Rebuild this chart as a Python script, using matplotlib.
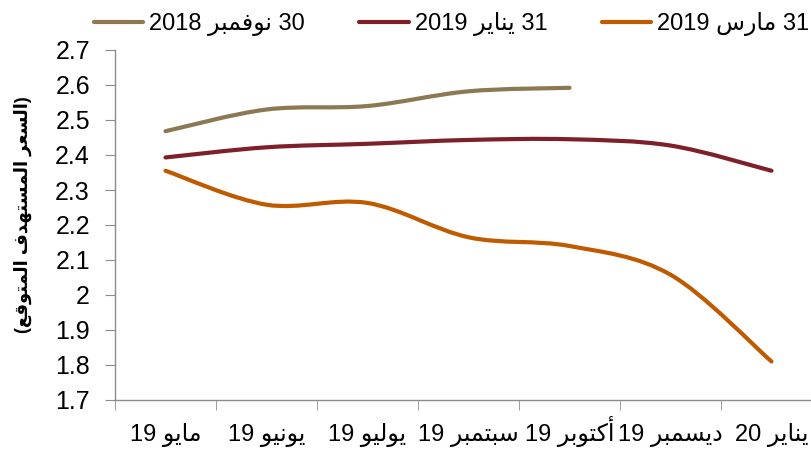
import matplotlib
matplotlib.use('Agg')
import matplotlib.pyplot as plt
from matplotlib.path import Path
from matplotlib.patches import PathPatch
from matplotlib.lines import Line2D

plt.rcParams['font.family'] = ['Liberation Sans', 'DejaVu Sans']

# Data
months = ['مايو 19', 'يونيو 19', 'يوليو 19', 'سبتمبر 19', 'أكتوبر 19', 'ديسمبر 19', 'يناير 20']
nov_2018 = [2.468, 2.530, 2.540, 2.582, 2.592]
jan_2019 = [2.393, 2.422, 2.432, 2.443, 2.445, 2.427, 2.355]
mar_2019 = [2.355, 2.258, 2.263, 2.165, 2.140, 2.058, 1.810]
series_names = ['30 نوفمبر 2018', '31 يناير 2019', '31 مارس 2019']
colors = ['#8C7853', '#7F1F2A', '#BF5A00']
y_ticks = [1.7, 1.8, 1.9, 2.0, 2.1, 2.2, 2.3, 2.4, 2.5, 2.6, 2.7]
y_title = '(السعر المستهدف المتوقع)'

# Arabic letters -> (isolated, final, initial, medial) presentation forms
FORMS = {
    'ا': (0xFE8D, 0xFE8E, None, None),
    'أ': (0xFE83, 0xFE84, None, None),
    'د': (0xFEA9, 0xFEAA, None, None),
    'ر': (0xFEAD, 0xFEAE, None, None),
    'و': (0xFEED, 0xFEEE, None, None),
    'ب': (0xFE8F, 0xFE90, 0xFE91, 0xFE92),
    'ت': (0xFE95, 0xFE96, 0xFE97, 0xFE98),
    'س': (0xFEB1, 0xFEB2, 0xFEB3, 0xFEB4),
    'ع': (0xFEC9, 0xFECA, 0xFECB, 0xFECC),
    'ف': (0xFED1, 0xFED2, 0xFED3, 0xFED4),
    'ق': (0xFED5, 0xFED6, 0xFED7, 0xFED8),
    'ك': (0xFED9, 0xFEDA, 0xFEDB, 0xFEDC),
    'ل': (0xFEDD, 0xFEDE, 0xFEDF, 0xFEE0),
    'م': (0xFEE1, 0xFEE2, 0xFEE3, 0xFEE4),
    'ن': (0xFEE5, 0xFEE6, 0xFEE7, 0xFEE8),
    'ه': (0xFEE9, 0xFEEA, 0xFEEB, 0xFEEC),
    'ي': (0xFEF1, 0xFEF2, 0xFEF3, 0xFEF4),
}
MIRROR = {'(': ')', ')': '('}


def shape_word(w):
    out = []
    for i, ch in enumerate(w):
        f = FORMS.get(ch)
        if f is None:
            out.append(MIRROR.get(ch, ch))
            continue
        prev = FORMS.get(w[i - 1]) if i > 0 else None
        nxt = FORMS.get(w[i + 1]) if i + 1 < len(w) else None
        jp = prev is not None and prev[2] is not None
        jn = f[2] is not None and nxt is not None
        if jp and jn:
            c = f[3]
        elif jp:
            c = f[1]
        elif jn:
            c = f[2]
        else:
            c = f[0]
        out.append(chr(c))
    return ''.join(reversed(out))


def rtl(text):
    words = text.split(' ')
    vis = []
    for w in reversed(words):
        if any(ch in FORMS for ch in w):
            vis.append(shape_word(w))
        else:
            vis.append(w)
    return ' '.join(vis)


def smooth_path(ys):
    # Bezier curve through the points (Excel-like smoothed line)
    pts = list(zip(range(len(ys)), ys))
    verts = [pts[0]]
    codes = [Path.MOVETO]
    for i in range(len(pts) - 1):
        p0 = pts[max(i - 1, 0)]
        p1 = pts[i]
        p2 = pts[i + 1]
        p3 = pts[min(i + 2, len(pts) - 1)]
        c1 = (p1[0] + (p2[0] - p0[0]) / 6, p1[1] + (p2[1] - p0[1]) / 6)
        c2 = (p2[0] - (p3[0] - p1[0]) / 6, p2[1] - (p3[1] - p1[1]) / 6)
        verts += [c1, c2, p2]
        codes += [Path.CURVE4] * 3
    return Path(verts, codes)


fig = plt.figure(figsize=(8.12, 4.5), dpi=100)
ax = fig.add_axes([115 / 812, 50 / 450, 707 / 812, 350 / 450])

for ys, col in zip([nov_2018, jan_2019, mar_2019], colors):
    patch = PathPatch(smooth_path(ys), facecolor='none', edgecolor=col,
                      lw=3, capstyle='round', joinstyle='round')
    ax.add_patch(patch)

ax.set_xlim(-0.5, 6.5)
ax.set_ylim(1.7, 2.7)
ax.set_yticks(y_ticks)
ax.set_yticklabels(['%g' % t for t in y_ticks])
ax.set_xticks(range(len(months)))
ax.set_xticklabels([rtl(m) for m in months])
ax.set_xticks([i - 0.5 for i in range(len(months) + 1)], minor=True)
for lbl in ax.get_xticklabels():
    lbl.set_va('baseline')

for s in ['top', 'right']:
    ax.spines[s].set_visible(False)
for s in ['left', 'bottom']:
    ax.spines[s].set_color('#8C8C8C')
    ax.spines[s].set_linewidth(1)

ax.tick_params(axis='y', direction='out', length=7, color='#8C8C8C', pad=11, labelsize=18)
ax.tick_params(axis='x', which='major', length=0, pad=29.5, labelsize=17)
ax.tick_params(axis='x', which='minor', direction='out', length=7, color='#8C8C8C')

ax.set_ylabel(rtl(y_title), fontsize=13, fontweight='bold')
ax.yaxis.set_label_coords(-0.118, 0.53)

handles = [Line2D([], [], color=c, lw=3, solid_capstyle='round') for c in colors]
fig.legend(handles, [rtl(n) for n in series_names], loc='upper center',
           bbox_to_anchor=(0.556, 1.02), ncol=3, frameon=False, fontsize=17,
           handlelength=2.1, handletextpad=0.25, columnspacing=2.3)

fig.savefig('out.png', dpi=100)
